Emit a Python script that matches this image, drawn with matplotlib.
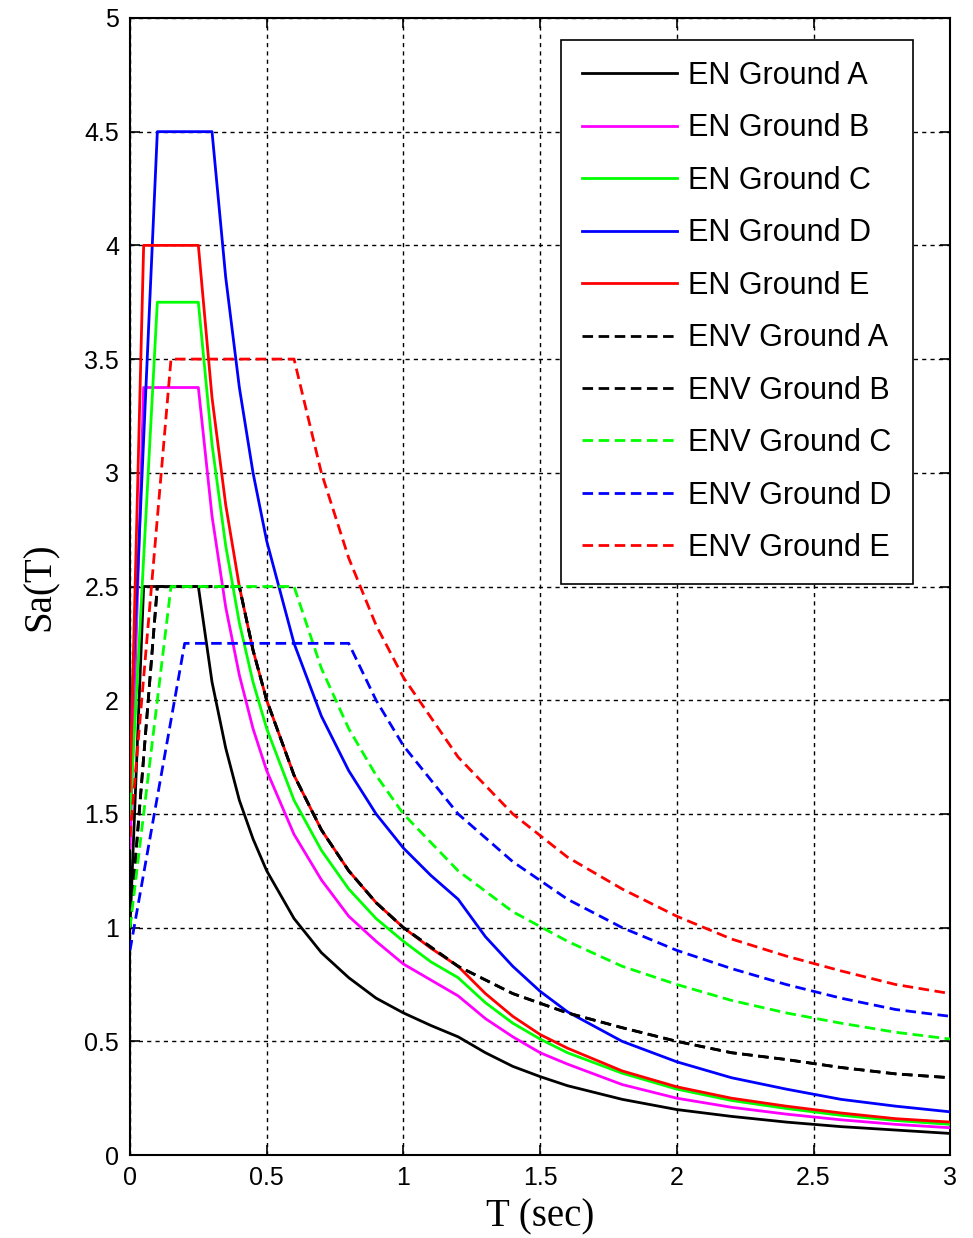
import matplotlib
matplotlib.use("Agg")
import matplotlib.pyplot as plt

# EN spectra
t_en_a = [0, 0.05, 0.25, 0.3, 0.35, 0.4, 0.45, 0.5, 0.6, 0.7, 0.8, 0.9, 1.0, 1.1, 1.2,
          1.3, 1.4, 1.5, 1.6, 1.8, 2.0, 2.2, 2.4, 2.6, 2.8, 3.0]
sa_en_a = [1.0, 2.5, 2.5, 2.08, 1.79, 1.56, 1.39, 1.25, 1.04, 0.89, 0.78, 0.69, 0.625, 0.57, 0.52,
           0.45, 0.39, 0.345, 0.305, 0.245, 0.2, 0.17, 0.145, 0.125, 0.11, 0.095]

t_en_b = t_en_a
sa_en_b = [1.35, 3.375, 3.375, 2.81, 2.41, 2.11, 1.875, 1.69, 1.41, 1.21, 1.05, 0.94, 0.84, 0.77, 0.70,
           0.60, 0.52, 0.45, 0.40, 0.31, 0.25, 0.21, 0.18, 0.155, 0.135, 0.12]

t_en_c = [0, 0.1, 0.25, 0.3, 0.35, 0.4, 0.45, 0.5, 0.6, 0.7, 0.8, 0.9, 1.0, 1.1, 1.2,
          1.3, 1.4, 1.5, 1.6, 1.8, 2.0, 2.2, 2.4, 2.6, 2.8, 3.0]
sa_en_c = [1.5, 3.75, 3.75, 3.125, 2.68, 2.34, 2.08, 1.875, 1.56, 1.34, 1.17, 1.04, 0.94, 0.85, 0.78,
           0.67, 0.58, 0.51, 0.45, 0.36, 0.29, 0.24, 0.205, 0.175, 0.152, 0.135]

t_en_d = [0, 0.1, 0.3, 0.35, 0.4, 0.45, 0.5, 0.6, 0.7, 0.8, 0.9, 1.0, 1.1, 1.2,
          1.3, 1.4, 1.5, 1.6, 1.8, 2.0, 2.2, 2.4, 2.6, 2.8, 3.0]
sa_en_d = [1.8, 4.5, 4.5, 3.86, 3.375, 3.0, 2.7, 2.25, 1.93, 1.69, 1.5, 1.35, 1.23, 1.125,
           0.96, 0.83, 0.72, 0.63, 0.50, 0.41, 0.34, 0.29, 0.245, 0.215, 0.19]

t_en_e = t_en_a
sa_en_e = [1.6, 4.0, 4.0, 3.33, 2.86, 2.5, 2.22, 2.0, 1.67, 1.43, 1.25, 1.11, 1.0, 0.91, 0.83,
           0.71, 0.61, 0.53, 0.47, 0.37, 0.30, 0.25, 0.215, 0.185, 0.16, 0.145]

# ENV spectra
t_env_a = [0, 0.1, 0.4, 0.45, 0.5, 0.6, 0.7, 0.8, 0.9, 1.0, 1.2, 1.4, 1.6, 1.8, 2.0,
           2.2, 2.4, 2.6, 2.8, 3.0]
sa_env_a = [1.0, 2.5, 2.5, 2.22, 2.0, 1.67, 1.43, 1.25, 1.11, 1.0, 0.83, 0.71, 0.625, 0.56, 0.5,
            0.45, 0.42, 0.385, 0.357, 0.34]

t_env_b = t_env_a
sa_env_b = sa_env_a

t_env_c = [0, 0.15, 0.6, 0.7, 0.8, 0.9, 1.0, 1.2, 1.4, 1.6, 1.8, 2.0, 2.2, 2.4, 2.6, 2.8, 3.0]
sa_env_c = [1.0, 2.5, 2.5, 2.14, 1.875, 1.67, 1.5, 1.25, 1.07, 0.94, 0.83, 0.75, 0.68, 0.625,
            0.58, 0.54, 0.51]

t_env_d = [0, 0.2, 0.8, 0.9, 1.0, 1.2, 1.4, 1.6, 1.8, 2.0, 2.2, 2.4, 2.6, 2.8, 3.0]
sa_env_d = [0.9, 2.25, 2.25, 2.0, 1.8, 1.5, 1.29, 1.125, 1.0, 0.9, 0.82, 0.75, 0.69, 0.64, 0.61]

t_env_e = [0, 0.15, 0.6, 0.7, 0.8, 0.9, 1.0, 1.2, 1.4, 1.6, 1.8, 2.0, 2.2, 2.4, 2.6, 2.8, 3.0]
sa_env_e = [1.4, 3.5, 3.5, 3.0, 2.625, 2.33, 2.1, 1.75, 1.5, 1.31, 1.17, 1.05, 0.95, 0.875,
            0.81, 0.75, 0.71]

labels = ["EN Ground A", "EN Ground B", "EN Ground C", "EN Ground D", "EN Ground E",
          "ENV Ground A", "ENV Ground B", "ENV Ground C", "ENV Ground D", "ENV Ground E"]
colors = ["#000000", "#ff00ff", "#00ff00", "#0000ff", "#ff0000",
          "#000000", "#000000", "#00ff00", "#0000ff", "#ff0000"]

xticks = [0, 0.5, 1, 1.5, 2, 2.5, 3]
xtick_labels = ["0", "0.5", "1", "1.5", "2", "2.5", "3"]
yticks = [0, 0.5, 1, 1.5, 2, 2.5, 3, 3.5, 4, 4.5, 5]
ytick_labels = ["0", "0.5", "1", "1.5", "2", "2.5", "3", "3.5", "4", "4.5", "5"]


def main():
    plt.rcParams["font.family"] = ["Liberation Sans", "DejaVu Sans"]
    fig = plt.figure(figsize=(9.73, 12.38), dpi=100)
    ax = fig.add_axes([0.1336, 0.067, 0.843, 0.9185])

    series = [(t_en_a, sa_en_a), (t_en_b, sa_en_b), (t_en_c, sa_en_c), (t_en_d, sa_en_d),
              (t_en_e, sa_en_e), (t_env_a, sa_env_a), (t_env_b, sa_env_b),
              (t_env_c, sa_env_c), (t_env_d, sa_env_d), (t_env_e, sa_env_e)]
    for i, (t, sa) in enumerate(series):
        if i < 5:
            ax.plot(t, sa, color=colors[i], lw=2, label=labels[i], zorder=3)
        else:
            ax.plot(t, sa, color=colors[i], lw=2, dashes=(3.8, 2), label=labels[i], zorder=3)

    ax.set_xlim(0, 3)
    ax.set_ylim(0, 5)
    ax.set_xticks(xticks)
    ax.set_xticklabels(xtick_labels)
    ax.set_yticks(yticks)
    ax.set_yticklabels(ytick_labels)
    ax.tick_params(direction="in", length=7, width=1.2, top=True, right=True,
                   labelsize=18, pad=8)
    ax.grid(True, color="black", linestyle=(0, (3, 3)), linewidth=1)
    for sp in ax.spines.values():
        sp.set_linewidth(1.5)

    ax.set_xlabel("T (sec)", family="Liberation Serif", fontsize=28, labelpad=6)
    ax.set_ylabel("Sa(T)", family="Liberation Serif", fontsize=28, labelpad=18)

    leg = ax.legend(loc="upper right", bbox_to_anchor=(0.954, 0.981), borderaxespad=0,
                    fontsize=22, labelspacing=0.735, handlelength=3.1, handletextpad=0.35,
                    borderpad=0.7, fancybox=False, framealpha=1, edgecolor="black")
    leg.get_frame().set_linewidth(1.2)

    fig.savefig("out.png", dpi=100)


if __name__ == "__main__":
    main()
